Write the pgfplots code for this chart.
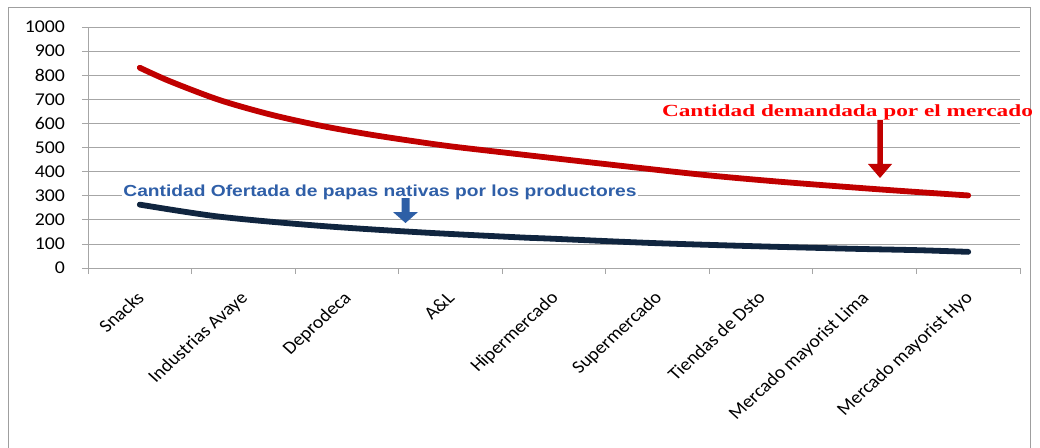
\documentclass[border=0pt]{standalone}
\usepackage{pgfplots}
\pgfplotsset{compat=1.18}
\usepackage{fontspec}
\setmainfont{Carlito}
\newfontfamily\blfont{Liberation Sans}
\newfontfamily\rdfont{Liberation Serif}
\definecolor{gridgray}{HTML}{A6A6A6}
\definecolor{redline}{HTML}{C00000}
\definecolor{navyline}{HTML}{10253F}
\definecolor{bluetext}{HTML}{2F5FA8}
\definecolor{bluearrow}{HTML}{2E5FA6}
\definecolor{redtext}{HTML}{FF0000}
\begin{document}
\begin{tikzpicture}[x=1pt,y=1pt]
\useasboundingbox (-88,-179) rectangle (952,268);
\draw[gray!75, line width=0.8pt] (-80,-185) -- (-80,261) -- (942,261) -- (942,-185);
\begin{axis}[
  at={(0pt,0pt)}, anchor=south west,
  scale only axis, width=932pt, height=241pt,
  xmin=-0.5, xmax=8.5, ymin=0, ymax=1000,
  axis x line*=bottom, axis y line*=left,
  axis line style={gridgray, line width=0.8pt, -},
  ytick={0,100,...,1000},
  ymajorgrids, grid style={gridgray, line width=0.8pt},
  xtick={-0.5,0.5,...,8.5}, xticklabels={},
  extra x ticks={0,1,2,3,4,5,6,7,8},
  extra x tick labels={Snacks, Industrias Avaye, Deprodeca, A\&L, Hipermercado, Supermercado, Tiendas de Dsto, Mercado mayorist Lima, Mercado mayorist Hyo},
  extra x tick style={major tick length=0pt},
  tick align=outside, major tick length=6pt,
  tick style={gridgray, line width=0.8pt},
  /pgf/number format/assume math mode=true,
  /pgf/number format/1000 sep={},
  yticklabel style={font=\fontsize{18}{20}\selectfont, xscale=1.1, anchor=east, xshift=-12pt},
  xticklabel style={font=\fontsize{18}{20}\selectfont, xshift=-4.5pt, yshift=-22pt, xscale=1.1, rotate=45, anchor=north east, inner sep=0pt},
  clip=false,
]
\addplot[redline, line width=5.8pt, line cap=round, smooth] coordinates {
(0,831) (0.29,775) (0.77,697) (1.26,637) (1.74,591) (2.22,554) (2.68,524) (3.0,505) (3.48,481) (4.44,434) (5.41,388) (6.18,358) (7.15,326) (8,301)};
\addplot[navyline, line width=5.8pt, line cap=round, smooth] coordinates {
(0,263) (0.77,213) (1.74,175) (2.71,148) (3.67,127) (3.96,122) (4.93,104) (5.89,91) (6.86,80) (7.51,74) (8,67)};
\end{axis}
\node[anchor=base, fill=white, inner xsep=1pt, inner ysep=2pt, text=bluetext, font=\blfont\bfseries\fontsize{16}{18}\selectfont, xscale=1.2] at (292,72) {Cantidad Ofertada de papas nativas por los productores};
\fill[bluearrow] (313.5,70) -- (321.5,70) -- (321.5,56) -- (330,56) -- (317.5,45) -- (305,56) -- (313.5,56) -- cycle;
\node[anchor=base, inner sep=0pt, text=redtext, font=\rdfont\bfseries\fontsize{17}{19}\selectfont, xscale=1.37] at (759.5,151.5) {Cantidad demandada por el mercado};
\fill[redline] (789.25,148) -- (794.75,148) -- (794.75,104) -- (804,104) -- (792,90) -- (780,104) -- (789.25,104) -- cycle;
\end{tikzpicture}
\end{document}
